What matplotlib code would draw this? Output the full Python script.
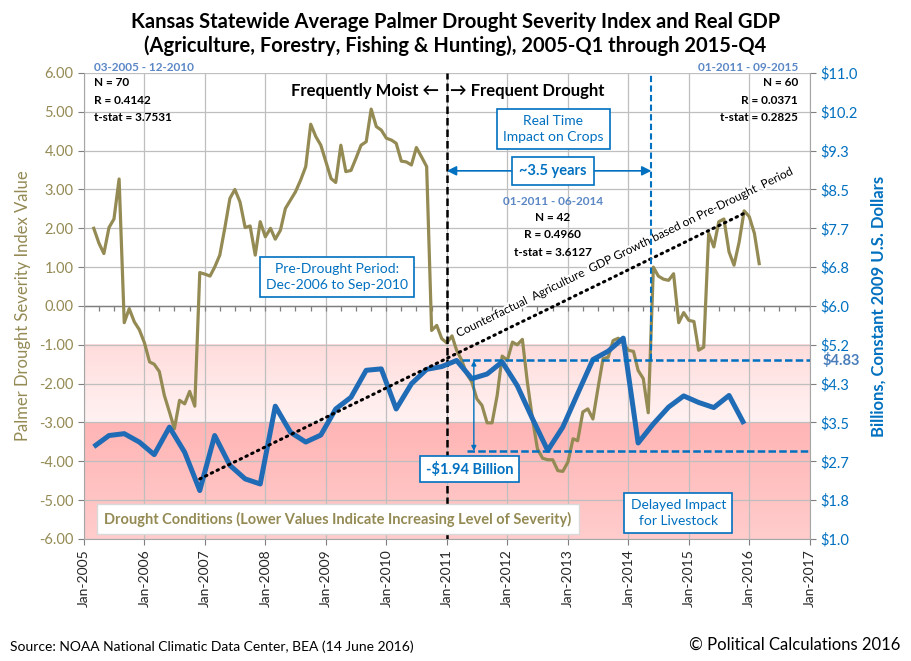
import numpy as np
import pandas as pd
import matplotlib
matplotlib.use('Agg')
import matplotlib.pyplot as plt
import matplotlib.dates as mdates
import matplotlib.patheffects as pe
from matplotlib.colors import LinearSegmentedColormap

plt.rcParams['font.family'] = ['Lato', 'DejaVu Sans']

# monthly Palmer Drought Severity Index, Mar 2005 .. Mar 2016
pdsi_start = '2005-03-01'
pdsi_values = [
    2.00, 1.62, 1.35, 2.02, 2.24, 3.27, -0.43, -0.07, -0.41, -0.61,
    -0.95, -1.44, -1.50, -1.69, -2.30, -2.73, -3.16, -2.43, -2.52, -2.20, -2.58, 0.86,
    0.82, 0.77, 1.00, 1.31, 2.00, 2.77, 3.00, 2.68, 2.02, 2.06, 1.31, 2.17,
    1.78, 2.00, 1.72, 1.95, 2.51, 2.73, 2.94, 3.24, 3.59, 4.68, 4.36, 4.14,
    3.71, 3.28, 3.18, 4.14, 3.46, 3.49, 3.80, 4.14, 4.23, 5.07, 4.62, 4.53,
    4.32, 4.27, 4.19, 3.73, 3.71, 3.63, 4.08, 3.84, 3.59, -0.63, -0.50, -0.84,
    -0.95, -0.77, -1.14, -1.40, -1.75, -1.96, -2.39, -2.56, -3.01, -3.01, -2.30, -1.29,
    -1.40, -0.93, -1.00, -0.86, -1.96, -2.91, -3.68, -3.92, -3.96, -3.96, -4.24, -4.26,
    -4.02, -3.42, -3.47, -2.73, -2.65, -2.91, -2.13, -1.36, -1.32, -0.89, -0.83, -0.97,
    -1.14, -1.17, -1.66, -1.87, -2.75, 1.00, 0.77, 0.69, 0.66, 0.83, -0.43, -0.17,
    -0.37, -0.40, -1.14, -1.06, 1.87, 1.52, 2.17, 2.24, 1.39, 1.05, 1.65, 2.45,
    2.30, 1.87, 1.09,
]

# quarterly real GDP (agriculture etc.), billions of 2009 dollars, 2005-Q1 .. 2015-Q4
gdp_start = '2005-03-01'
gdp_values = [
    2.98, 3.22, 3.26, 3.08,
    2.81, 3.40, 2.86, 2.04,
    3.22, 2.58, 2.29, 2.18,
    3.85, 3.29, 3.08, 3.23,
    3.79, 4.04, 4.62, 4.65,
    3.79, 4.33, 4.64, 4.70,
    4.83, 4.44, 4.54, 4.80,
    4.29, 3.58, 2.90, 3.40,
    4.12, 4.85, 5.03, 5.31,
    3.06, 3.47, 3.83, 4.07,
    3.93, 3.82, 4.08, 3.47,
]

pre_drought = ('2006-12-01', '2010-09-01')
drought_start = '2011-01-01'
livestock_impact = '2014-05-20'
gdp_baseline = 4.83
gdp_loss = 1.94

left_ticks = np.arange(-6, 7, 1)
right_ticks = np.linspace(1, 11, 13)
year_ticks = pd.date_range('2005-01-01', '2017-01-01', freq='YS')

olive = '#948A54'
blue_line = '#1F6BB5'
blue_txt = '#0070C0'
stat_blue = '#5B87C5'

pdsi_dates = pd.date_range(pdsi_start, periods=len(pdsi_values), freq='MS')
gdp_dates = pd.date_range(gdp_start, periods=len(gdp_values), freq='3MS')
gdp = pd.Series(gdp_values, index=gdp_dates)

fig = plt.figure(figsize=(9.11, 6.61), dpi=100)
ax = fig.add_axes([0.0922, 0.1846, 0.7968, 0.705])
ax2 = ax.twinx()

xmin = mdates.date2num(pd.Timestamp('2005-01-01'))
xmax = mdates.date2num(pd.Timestamp('2017-01-01'))

# drought shading bands
band1 = LinearSegmentedColormap.from_list('b1', ['#FFF2F2', '#FFDCDC'])
band2 = LinearSegmentedColormap.from_list('b2', ['#FFCCCC', '#FFB5B5'])
grad = np.linspace(0, 1, 100).reshape(-1, 1)
ax.imshow(grad, cmap=band1, extent=[xmin, xmax, -1, -3], origin='upper',
          aspect='auto', zorder=0)
ax.imshow(grad, cmap=band2, extent=[xmin, xmax, -3, -6], origin='upper',
          aspect='auto', zorder=0)

ax.plot(pdsi_dates, pdsi_values, color=olive, lw=2.3, zorder=3, solid_joinstyle='round')
ax.axhline(0, color='#7F7F7F', lw=1.0, zorder=2)
quarter_marks = pd.date_range('2005-01-01', '2017-01-01', freq='QS')
ax.vlines(quarter_marks, -0.13, 0, color='#7F7F7F', lw=0.9, zorder=2)

ax.set_xlim(xmin, xmax)
ax.set_ylim(-6, 6)
ax.set_yticks(left_ticks)
ax.set_yticklabels(['%.2f' % v for v in left_ticks])
ax.set_xticks(year_ticks)
ax.xaxis.set_major_formatter(mdates.DateFormatter('%b-%Y'))
ax.tick_params(axis='x', rotation=90, labelsize=10, colors='#7F7F7F',
               labelcolor='#262626', length=4)
ax.tick_params(axis='y', labelsize=10.5, colors='#7F7F7F', labelcolor=olive, length=4)
ax.grid(True, color='#BFBFBF', lw=0.9)
for s in ['top', 'right']:
    ax.spines[s].set_visible(False)
ax.spines['left'].set_color('#A6A6A6')
ax.spines['bottom'].set_color('#A6A6A6')
ax.set_ylabel('Palmer Drought Severity Index Value', color=olive, fontsize=12, labelpad=6)

# GDP on the right axis
ax2.plot(gdp.index, gdp.values, color=blue_line, lw=3.6, zorder=4, solid_joinstyle='round',
         solid_capstyle='butt')
pre = gdp[pre_drought[0]:pre_drought[1]]
qi = np.arange(len(gdp))
pre_idx = qi[(gdp.index >= pre_drought[0]) & (gdp.index <= pre_drought[1])]
slope, intercept = np.polyfit(pre_idx, pre.values, 1)
cf_idx = qi[qi >= pre_idx[0]]
ax2.plot(gdp.index[cf_idx], intercept + slope * cf_idx, color='black', lw=2.2,
         linestyle=(0, (0.5, 1.6)), dash_capstyle='round', zorder=5)

ax2.set_ylim(1, 11)
ax2.set_yticks(right_ticks)
ax2.set_yticklabels(['$%.1f' % v for v in right_ticks])
ax2.tick_params(axis='y', labelsize=10.5, colors='#7F7F7F', labelcolor=blue_txt, length=4)
for s in ['top', 'left', 'bottom']:
    ax2.spines[s].set_visible(False)
ax2.spines['right'].set_color('#A6A6A6')
ax2.set_ylabel('Billions, Constant 2009 U.S. Dollars', color=blue_txt, fontsize=12,
               fontweight='bold', labelpad=9)
ax2.set_xlim(xmin, xmax)

# reference lines
ax.axvline(pd.Timestamp(drought_start), color='black', lw=1.8, linestyle=(0, (3, 1.6)), zorder=6)
ax2.vlines(pd.Timestamp(livestock_impact), gdp_baseline, 11, color=blue_txt, lw=1.5,
           linestyle=(0, (3, 1.6)), zorder=6)
ax2.hlines(gdp_baseline, pd.Timestamp('2011-04-01'), xmax, color=blue_txt, lw=1.8,
           linestyle=(0, (3, 1.3)), zorder=6)
ax2.hlines(gdp_baseline - gdp_loss, pd.Timestamp('2011-05-01'), xmax, color=blue_txt, lw=1.8,
           linestyle=(0, (3, 1.3)), zorder=6)
ax2.annotate('', xy=(pd.Timestamp('2011-06-13'), gdp_baseline - gdp_loss),
             xytext=(pd.Timestamp('2011-06-13'), gdp_baseline),
             arrowprops=dict(arrowstyle='<|-|>', color=blue_txt, lw=1.0,
                             mutation_scale=7, shrinkA=0, shrinkB=0), zorder=6)
ax2.text(pd.Timestamp('2017-03-20'), gdp_baseline, '$%.2f' % gdp_baseline, color='#4A7EBB',
         fontsize=10.5, fontweight='bold', va='center', ha='left', clip_on=False)

box = dict(boxstyle='square,pad=0.45', fc='white', ec=blue_txt, lw=1.2)

ax.annotate('', xy=(pd.Timestamp(drought_start), 3.48), xytext=(pd.Timestamp(livestock_impact), 3.48),
            arrowprops=dict(arrowstyle='<|-|>', color=blue_txt, lw=1.2,
                            mutation_scale=14, shrinkA=0, shrinkB=0), zorder=7)

# texts
ax.text(pd.Timestamp('2010-11-16'), 5.54, 'Frequently Moist \u2190', ha='right', va='center',
        fontsize=12, fontweight='bold', zorder=8)
ax.text(pd.Timestamp('2011-01-18'), 5.54, '\u2192 Frequent Drought', ha='left', va='center',
        fontsize=12, fontweight='bold', zorder=8)
ax.text(pd.Timestamp('2012-10-03'), 4.56, 'Real Time\nImpact on Crops', ha='center', va='center',
        fontsize=10, color=blue_txt, linespacing=1.35, bbox=box, zorder=8)
ax.text(pd.Timestamp('2012-10-03'), 3.48, '~3.5 years', ha='center', va='center',
        fontsize=10.5, color=blue_txt, fontweight='bold',
        bbox=dict(boxstyle='square,pad=0.5', fc='white', ec=blue_txt, lw=1.2), zorder=8)

stat_kw = dict(fontsize=8.5, fontweight='bold', linespacing=1.75, va='top')
ax.text(pd.Timestamp('2005-03-01'), 6.15, '03-2005 - 12-2010', ha='left', va='center',
        fontsize=8.5, fontweight='bold', color=stat_blue)
ax.text(pd.Timestamp('2005-03-01'), 5.90, 'N = 70\nR = 0.4142\nt-stat = 3.7531', ha='left',
        **stat_kw)
ax.text(pd.Timestamp('2016-10-20'), 6.15, '01-2011 - 09-2015', ha='right', va='center',
        fontsize=8.5, fontweight='bold', color=stat_blue, clip_on=False)
ax.text(pd.Timestamp('2016-10-20'), 5.90, 'N = 60\nR = 0.0371\nt-stat = 0.2825', ha='right',
        **stat_kw)
ax.text(pd.Timestamp('2012-10-01'), 2.68, '01-2011 - 06-2014', ha='center', va='center',
        fontsize=8.5, fontweight='bold', color=stat_blue)
ax.text(pd.Timestamp('2012-10-01'), 2.43, 'N = 42\nR = 0.4960\nt-stat = 3.6127', ha='center',
        **stat_kw)

ax.text(pd.Timestamp('2009-03-10'), 0.75, 'Pre-Drought Period:\nDec-2006 to Sep-2010',
        ha='center', va='center', fontsize=10, color=blue_txt, linespacing=1.35,
        bbox=box, zorder=8)
ax.text(pd.Timestamp('2014-10-30'), -5.33, 'Delayed Impact\nfor Livestock', ha='center',
        va='center', fontsize=10, color=blue_txt, linespacing=1.35, bbox=box, zorder=8)
ax.text(pd.Timestamp('2009-03-15'), -5.49,
        'Drought Conditions (Lower Values Indicate Increasing Level of Severity)',
        ha='center', va='center', fontsize=10.5, fontweight='bold', color=olive,
        bbox=dict(boxstyle='square,pad=0.5', fc='white', ec='#D9D9D9', lw=1.0), zorder=8)
ax2.text(pd.Timestamp('2011-05-18'), 1 + (-4.20 + 6) * 10 / 12, '-$1.94 Billion', ha='center',
         va='center', fontsize=10.5, fontweight='bold', color=blue_txt,
         bbox=dict(boxstyle='square,pad=0.4', fc='white', ec=blue_txt, lw=1.2), zorder=8)
ax.text(pd.Timestamp('2013-12-10'), 1.38,
        'Counterfactual  Agriculture  GDP Growth based on Pre-Drought  Period',
        ha='center', va='center', rotation=26, rotation_mode='anchor', fontsize=8.5,
        zorder=8, path_effects=[pe.withStroke(linewidth=3, foreground='white')])

fig.text(0.5, 0.982, 'Kansas Statewide Average Palmer Drought Severity Index and Real GDP\n'
         '(Agriculture, Forestry, Fishing & Hunting), 2005-Q1 through 2015-Q4',
         ha='center', va='top', fontsize=14.5, fontweight='bold', linespacing=1.2)
fig.text(0.011, 0.021, 'Source: NOAA National Climatic Data Center, BEA (14 June 2016)',
         ha='left', va='center', fontsize=10)
fig.text(0.988, 0.024, '\u00a9 Political Calculations 2016', ha='right', va='center',
         fontsize=12)

fig.savefig('out.png', dpi=100)
